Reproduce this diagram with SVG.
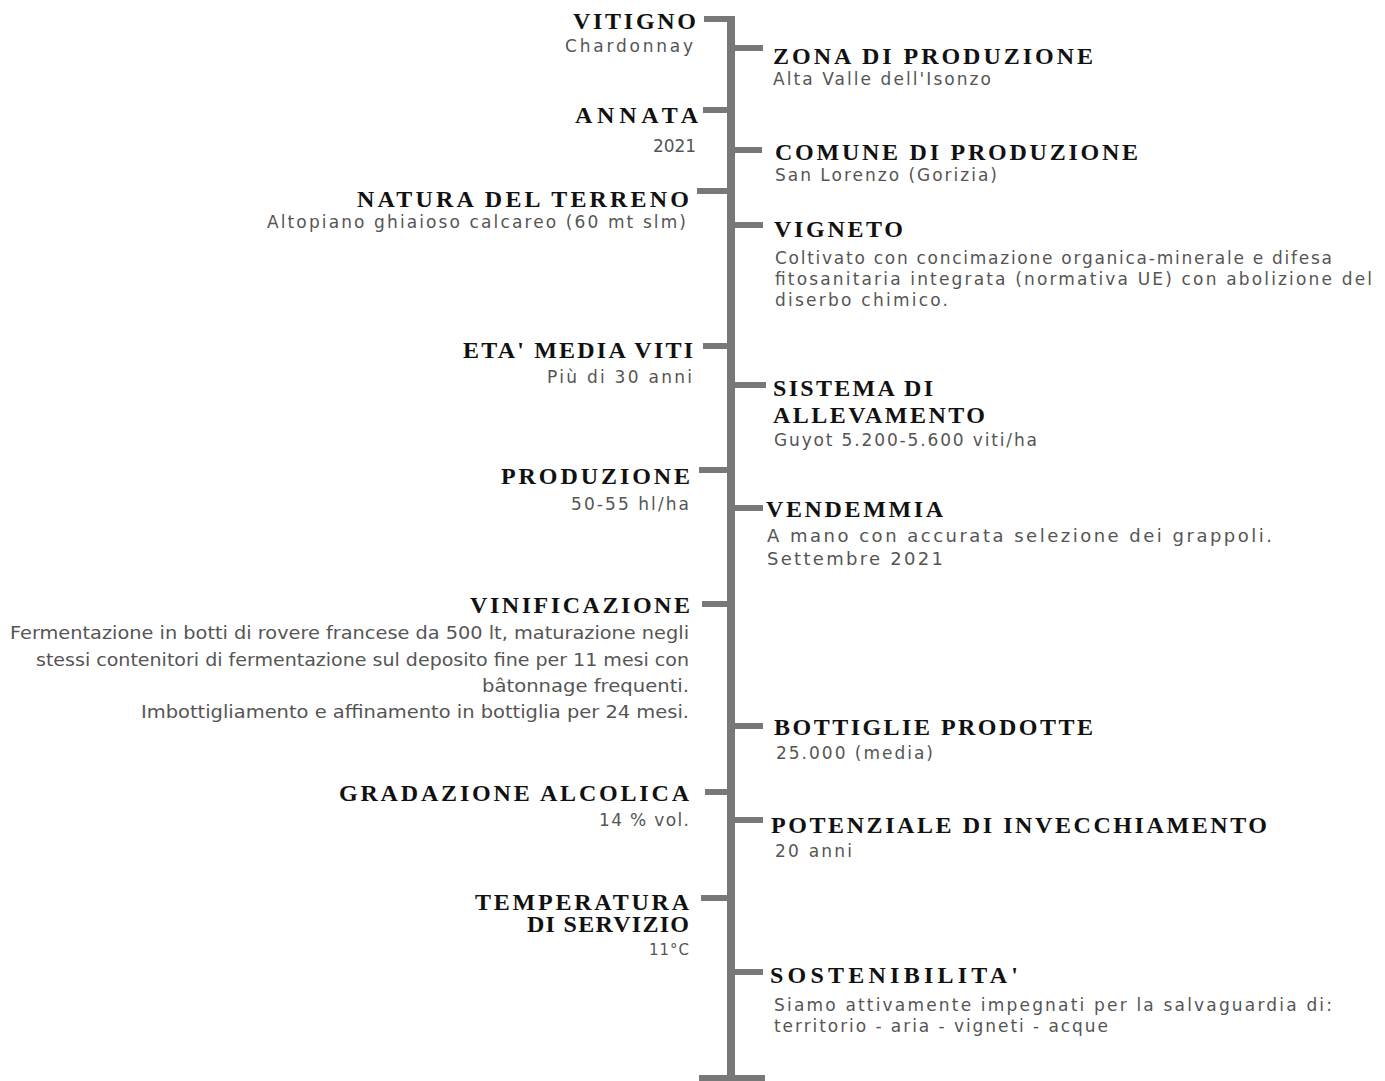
<svg xmlns="http://www.w3.org/2000/svg" width="1385" height="1081" viewBox="0 0 1385 1081">
<style>
.t{font-family:"Liberation Serif",serif;font-weight:700;font-size:24px;fill:#111}
.b{font-family:"DejaVu Sans","Open Sans",sans-serif;font-weight:400;font-size:17px;fill:#555}
.v{font-size:17px}
.e{text-anchor:end}
.ln{fill:#787878}
</style>
<rect width="1385" height="1081" fill="#fff"/>
<g id="connectors" class="ln">
<rect x="727" y="16" width="8" height="1065"/>
<rect x="699" y="1075" width="66" height="6"/>
<rect x="704" y="16" width="24" height="6"/>
<rect x="703" y="107" width="25" height="6"/>
<rect x="697" y="188" width="31" height="6"/>
<rect x="703" y="343" width="25" height="6"/>
<rect x="699" y="467" width="29" height="6"/>
<rect x="702" y="601" width="26" height="6"/>
<rect x="705" y="789" width="23" height="6"/>
<rect x="701" y="895" width="27" height="6"/>
<rect x="734" y="45" width="29" height="6"/>
<rect x="734" y="147" width="28" height="6"/>
<rect x="734" y="222" width="29" height="6"/>
<rect x="734" y="382" width="32" height="6"/>
<rect x="734" y="505" width="29" height="6"/>
<rect x="734" y="723" width="29" height="6"/>
<rect x="734" y="817" width="29" height="6"/>
<rect x="734" y="969" width="29" height="6"/>
</g>
<g id="vitigno">
<text class="t e" x="696" y="29" textLength="123" lengthAdjust="spacing">VITIGNO</text>
<text class="b e" x="693" y="52" textLength="128" lengthAdjust="spacing">Chardonnay</text>
</g>
<g id="annata">
<text class="t e" x="698" y="123" textLength="123" lengthAdjust="spacing">ANNATA</text>
<text class="b e" x="696" y="152" textLength="43" lengthAdjust="spacing">2021</text>
</g>
<g id="natura-terreno">
<text class="t e" x="689" y="207" textLength="332" lengthAdjust="spacing">NATURA DEL TERRENO</text>
<text class="b e" x="686" y="228" textLength="419" lengthAdjust="spacing">Altopiano ghiaioso calcareo (60 mt slm)</text>
</g>
<g id="eta-media-viti">
<text class="t e" x="693" y="358" textLength="230" lengthAdjust="spacing">ETA' MEDIA VITI</text>
<text class="b e" x="692" y="383" textLength="145" lengthAdjust="spacing">Più di 30 anni</text>
</g>
<g id="produzione">
<text class="t e" x="690" y="484" textLength="189" lengthAdjust="spacing">PRODUZIONE</text>
<text class="b e" x="689" y="510" textLength="118" lengthAdjust="spacing">50-55 hl/ha</text>
</g>
<g id="vinificazione">
<text class="t e" x="690" y="613" textLength="220" lengthAdjust="spacing">VINIFICAZIONE</text>
<text class="b v e" x="689" y="639" textLength="679" lengthAdjust="spacingAndGlyphs">Fermentazione in botti di rovere francese da 500 lt, maturazione negli</text>
<text class="b v e" x="689" y="666" textLength="653" lengthAdjust="spacingAndGlyphs">stessi contenitori di fermentazione sul deposito fine per 11 mesi con</text>
<text class="b v e" x="689" y="692" textLength="207" lengthAdjust="spacingAndGlyphs">bâtonnage frequenti.</text>
<text class="b v e" x="689" y="718" textLength="548" lengthAdjust="spacingAndGlyphs">Imbottigliamento e affinamento in bottiglia per 24 mesi.</text>
</g>
<g id="gradazione-alcolica">
<text class="t e" x="689" y="801" textLength="350" lengthAdjust="spacing">GRADAZIONE ALCOLICA</text>
<text class="b e" x="689" y="826" textLength="90" lengthAdjust="spacing">14 % vol.</text>
</g>
<g id="temperatura-servizio">
<text class="t e" x="689" y="910" textLength="214" lengthAdjust="spacing">TEMPERATURA</text>
<text class="t e" x="689" y="932" textLength="162" lengthAdjust="spacing">DI SERVIZIO</text>
<text class="b e" x="689" y="955" textLength="40" lengthAdjust="spacing" style="font-size:15px">11°C</text>
</g>
<g id="zona-produzione">
<text class="t" x="773" y="64" textLength="320" lengthAdjust="spacing">ZONA DI PRODUZIONE</text>
<text class="b" x="773" y="85" textLength="218" lengthAdjust="spacing">Alta Valle dell'Isonzo</text>
</g>
<g id="comune-produzione">
<text class="t" x="775" y="160" textLength="363" lengthAdjust="spacing">COMUNE DI PRODUZIONE</text>
<text class="b" x="775" y="181" textLength="222" lengthAdjust="spacing">San Lorenzo (Gorizia)</text>
</g>
<g id="vigneto">
<text class="t" x="774" y="237" textLength="129" lengthAdjust="spacing">VIGNETO</text>
<text class="b" x="775" y="264" textLength="557" lengthAdjust="spacing">Coltivato con concimazione organica-minerale e difesa</text>
<text class="b" x="775" y="285" textLength="597" lengthAdjust="spacing">fitosanitaria integrata (normativa UE) con abolizione del</text>
<text class="b" x="775" y="306" textLength="173" lengthAdjust="spacing">diserbo chimico.</text>
</g>
<g id="sistema-allevamento">
<text class="t" x="773" y="396" textLength="160" lengthAdjust="spacing">SISTEMA DI</text>
<text class="t" x="773" y="423" textLength="212" lengthAdjust="spacing">ALLEVAMENTO</text>
<text class="b" x="774" y="446" textLength="263" lengthAdjust="spacing">Guyot 5.200-5.600 viti/ha</text>
</g>
<g id="vendemmia">
<text class="t" x="766" y="517" textLength="177" lengthAdjust="spacing">VENDEMMIA</text>
<text class="b" x="767" y="542" textLength="505" lengthAdjust="spacing" style="font-size:18px">A mano con accurata selezione dei grappoli.</text>
<text class="b" x="767" y="565" textLength="176" lengthAdjust="spacing" style="font-size:18px">Settembre 2021</text>
</g>
<g id="bottiglie-prodotte">
<text class="t" x="774" y="735" textLength="319" lengthAdjust="spacing">BOTTIGLIE PRODOTTE</text>
<text class="b" x="776" y="759" textLength="157" lengthAdjust="spacing">25.000 (media)</text>
</g>
<g id="potenziale-invecchiamento">
<text class="t" x="771" y="833" textLength="496" lengthAdjust="spacing">POTENZIALE DI INVECCHIAMENTO</text>
<text class="b" x="775" y="857" textLength="77" lengthAdjust="spacing">20 anni</text>
</g>
<g id="sostenibilita">
<text class="t" x="770" y="983" textLength="248" lengthAdjust="spacing">SOSTENIBILITA'</text>
<text class="b" x="774" y="1011" textLength="558" lengthAdjust="spacing">Siamo attivamente impegnati per la salvaguardia di:</text>
<text class="b" x="774" y="1032" textLength="334" lengthAdjust="spacing">territorio - aria - vigneti - acque</text>
</g>
</svg>
